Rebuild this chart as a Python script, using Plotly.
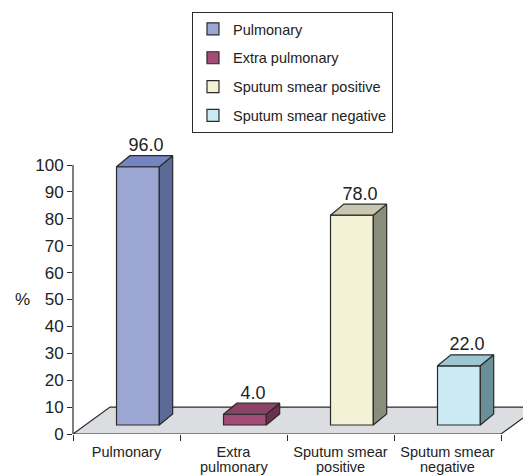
import plotly.graph_objects as go

# ---------------- data ----------------
categories = ["Pulmonary", "Extra pulmonary", "Sputum smear positive", "Sputum smear negative"]
label_line1 = ["Pulmonary", "Extra", "Sputum smear", "Sputum smear"]
label_line2 = ["", "pulmonary", "positive", "negative"]
values = [96.0, 4.0, 78.0, 22.0]
y_ticks = [0, 10, 20, 30, 40, 50, 60, 70, 80, 90, 100]

# ---------------- style ----------------
front_colors = ["#9BA6D3", "#A34C78", "#F4F2D6", "#CCEAF4"]
side_colors = ["#5B6A96", "#6C2F4E", "#898E7C", "#6A8F98"]
top_colors = ["#7585C3", "#8B4468", "#C9C7B0", "#9CC7D2"]
edge = "#2a2a2a"
txt = "#222222"
label_font = "Liberation Sans, Arial, sans-serif"

# 3-D geometry (axis units)
floor_dx, floor_dy = 0.346, 10.0      # depth of floor
bar_base = 3.35                         # front face of bars sits this far into the floor
bar_shift = bar_base / floor_dy * floor_dx * 0.92
bar_w = 0.40
d_dx, d_dy = 0.125, 4.1                 # bar depth

fig = go.Figure()

for i, (cat, v) in enumerate(zip(categories, values)):
    xc = i + bar_shift
    x0, x1 = xc - bar_w / 2, xc + bar_w / 2
    top = bar_base + v
    # front face (bar)
    fig.add_trace(go.Bar(
        x=[xc], y=[v], base=[bar_base], width=[bar_w], name=cat,
        marker=dict(color=front_colors[i], line=dict(color=edge, width=1.2)),
        legendgroup=cat, showlegend=True, hoverinfo="skip"))
    # side face
    fig.add_trace(go.Scatter(
        x=[x1, x1 + d_dx, x1 + d_dx, x1, x1],
        y=[bar_base, bar_base + d_dy, top + d_dy, top, bar_base],
        mode="lines", fill="toself", fillcolor=side_colors[i],
        line=dict(color=edge, width=1.2), showlegend=False, hoverinfo="skip",
        legendgroup=cat))
    # top face
    fig.add_trace(go.Scatter(
        x=[x0, x1, x1 + d_dx, x0 + d_dx, x0],
        y=[top, top, top + d_dy, top + d_dy, top],
        mode="lines", fill="toself", fillcolor=top_colors[i],
        line=dict(color=edge, width=1.2), showlegend=False, hoverinfo="skip",
        legendgroup=cat))

# value labels
fig.add_trace(go.Scatter(
    x=[i + bar_shift + d_dx * 0.6 for i in range(len(values))],
    y=[bar_base + v + d_dy for v in values],
    mode="text", text=[f"{v:.1f}" for v in values], textposition="top center",
    textfont=dict(family=label_font, size=18, color=txt),
    showlegend=False, hoverinfo="skip", cliponaxis=False))

n = len(categories)
x_lo, x_hi = -0.5, n - 0.5

# floor (drawn below traces)
fig.add_shape(type="path", layer="below", xref="x", yref="y",
              path=f"M {x_lo},0 L {x_hi},0 L {x_hi + floor_dx},{floor_dy} L {x_lo + floor_dx},{floor_dy} Z",
              fillcolor="#DCDDE0", line=dict(color=edge, width=1.2))
# y axis line (0..100)
fig.add_shape(type="line", xref="paper", yref="y", x0=0, x1=0, y0=0, y1=max(y_ticks),
              line=dict(color=edge, width=1.2))

# second lines of category labels
for i, t in enumerate(label_line2):
    if t:
        fig.add_annotation(x=i, y=0, xref="x", yref="y", text=t, showarrow=False,
                           yanchor="top", yshift=-23,
                           font=dict(family=label_font, size=14.5, color=txt))

# "%" axis label
fig.add_annotation(x=-0.113, y=50, xref="paper", yref="y", text="%", showarrow=False,
                   xanchor="center", yanchor="middle",
                   font=dict(family=label_font, size=17, color=txt))

fig.update_layout(
    width=523, height=476,
    margin=dict(l=73, r=0, t=140, b=42),
    paper_bgcolor="white", plot_bgcolor="white",
    barmode="overlay",
    showlegend=True,
    legend=dict(x=0.2644, y=1.4354, xanchor="left", yanchor="top",
                bgcolor="white", bordercolor=edge, borderwidth=1,
                font=dict(family=label_font, size=14.5, color=txt),
                tracegroupgap=7, traceorder="grouped"),
    xaxis=dict(range=[x_lo, x_lo + 450 / 107.0], tickmode="array",
               tickvals=list(range(n)), ticktext=label_line1, tickangle=0,
               ticks="", showgrid=False, zeroline=False, showline=False,
               automargin=False,
               tickfont=dict(family=label_font, size=14.5, color=txt),
               ticklabelstandoff=7,
               minor=dict(tickmode="array", tickvals=[x_lo + k for k in range(n + 1)],
                          ticks="outside", ticklen=6, tickcolor=edge, tickwidth=1.2)),
    yaxis=dict(range=[0, 294 / 2.69], tickmode="array", tickvals=y_ticks,
               ticks="outside", ticklen=5, tickcolor=edge, tickwidth=1.2,
               showgrid=False, zeroline=False, showline=False, automargin=False,
               tickfont=dict(family=label_font, size=17, color=txt)),
)

fig.write_html("out.html")
